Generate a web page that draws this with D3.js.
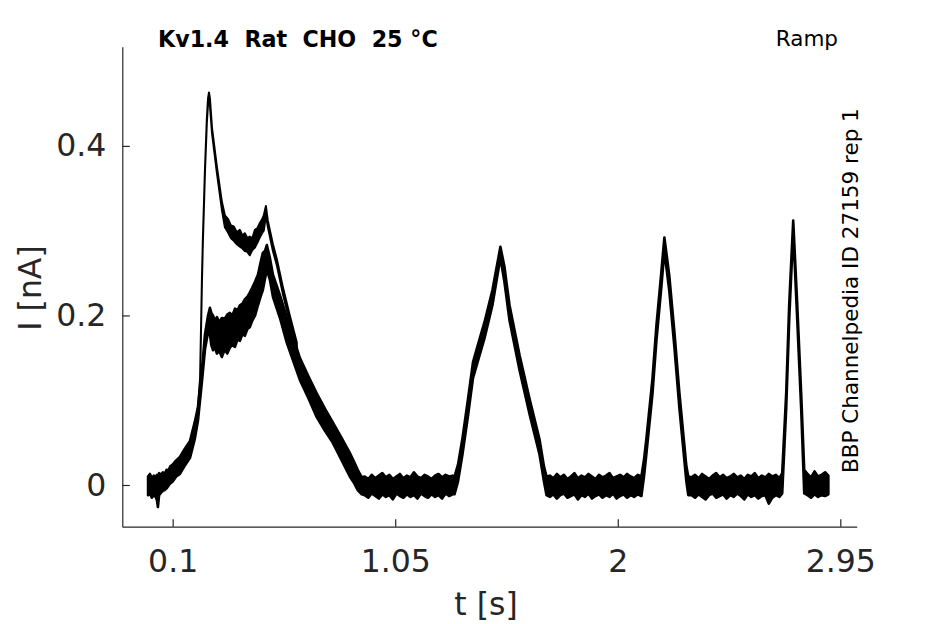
<!DOCTYPE html>
<html lang="en">
<head>
<meta charset="UTF-8"/>
<title>Kv1.4 Rat CHO 25 °C - Ramp</title>
<script src="https://cdn.jsdelivr.net/npm/d3@7/dist/d3.min.js"></script>
<style>
  * { margin: 0; padding: 0; }
  body { background: #fff; width: 945px; height: 624px; overflow: hidden; }
  svg { display: block; font-family: "DejaVu Sans", sans-serif; }
  .axis path, .axis line { stroke: #262626; stroke-width: 1.2px; }
  .axis text { fill: #262626; font-size: 31.5px; font-family: "DejaVu Sans", sans-serif; }
</style>
</head>
<body>
<svg id="chart" width="945" height="624"></svg>
<script>
// --- data: [t (s), upper edge (nA), lower edge (nA)] ---
// the overlapping lower sweeps drawn as one noisy band

const restStart = [
  [-0.005, 0.010, -0.012], [0.003, 0.013, -0.010], [0.011, 0.008, -0.015], [0.019, 0.011, -0.012],
  [0.027, 0.009, -0.014], [0.033, 0.012, -0.018], [0.037, 0.010, -0.026], [0.042, 0.014, -0.012],
  [0.050, 0.012, -0.009], [0.058, 0.015, -0.007], [0.066, 0.013, -0.006], [0.074, 0.018, -0.004],
  [0.082, 0.017, -0.001], [0.090, 0.022, 0.002]
]

const rampOne = [
  [0.100, 0.024, 0.004], [0.115, 0.029, 0.010], [0.131, 0.033, 0.013], [0.150, 0.042, 0.022],
  [0.174, 0.052, 0.032], [0.195, 0.075, 0.055], [0.208, 0.092, 0.076], [0.225, 0.136, 0.122],
  [0.238, 0.178, 0.160], [0.251, 0.200, 0.180], [0.259, 0.209, 0.178], [0.265, 0.203, 0.165],
  [0.272, 0.200, 0.159], [0.280, 0.194, 0.162], [0.289, 0.198, 0.155], [0.299, 0.192, 0.158],
  [0.310, 0.197, 0.151], [0.322, 0.196, 0.160], [0.333, 0.201, 0.155], [0.344, 0.203, 0.162],
  [0.355, 0.200, 0.165], [0.366, 0.208, 0.163], [0.377, 0.206, 0.172], [0.387, 0.212, 0.170],
  [0.398, 0.214, 0.178], [0.408, 0.219, 0.176], [0.419, 0.222, 0.184], [0.429, 0.227, 0.186],
  [0.440, 0.233, 0.194], [0.452, 0.240, 0.200], [0.464, 0.248, 0.212], [0.475, 0.262, 0.222],
  [0.485, 0.274, 0.230], [0.494, 0.276, 0.243], [0.502, 0.283, 0.254], [0.515, 0.268, 0.242],
  [0.528, 0.248, 0.222], [0.558, 0.224, 0.197], [0.587, 0.198, 0.168], [0.615, 0.174, 0.146],
  [0.643, 0.150, 0.124], [0.680, 0.128, 0.102], [0.715, 0.108, 0.080], [0.750, 0.090, 0.064],
  [0.783, 0.074, 0.050], [0.820, 0.056, 0.030], [0.856, 0.038, 0.010], [0.875, 0.027, 0.002],
  [0.890, 0.018, -0.006], [0.907, 0.009, -0.011]
]

const restOne = [
  [0.920, 0.010, -0.012], [0.935, 0.007, -0.015], [0.950, 0.012, -0.010], [0.965, 0.008, -0.013],
  [0.980, 0.011, -0.016], [0.995, 0.014, -0.011], [1.010, 0.009, -0.014], [1.025, 0.012, -0.012],
  [1.040, 0.007, -0.017], [1.055, 0.010, -0.010], [1.070, 0.013, -0.013], [1.085, 0.008, -0.015],
  [1.100, 0.011, -0.011], [1.115, 0.009, -0.014], [1.130, 0.015, -0.012], [1.145, 0.010, -0.016],
  [1.160, 0.008, -0.010], [1.175, 0.012, -0.013], [1.190, 0.010, -0.015], [1.205, 0.007, -0.011],
  [1.220, 0.011, -0.014], [1.235, 0.013, -0.012], [1.250, 0.009, -0.016], [1.265, 0.012, -0.010],
  [1.280, 0.010, -0.013], [1.295, 0.011, -0.011]
]

const rampTwo = [
  [1.303, 0.010, -0.011], [1.318, 0.024, 0.004], [1.337, 0.055, 0.036], [1.360, 0.100, 0.080],
  [1.382, 0.145, 0.126], [1.410, 0.172, 0.153], [1.431, 0.192, 0.173], [1.465, 0.230, 0.212],
  [1.499, 0.281, 0.268], [1.516, 0.258, 0.240], [1.538, 0.212, 0.194], [1.581, 0.153, 0.135],
  [1.624, 0.101, 0.083], [1.666, 0.054, 0.036], [1.685, 0.022, 0.004], [1.696, 0.010, -0.012]
]

const restTwo = [
  [1.710, 0.011, -0.014], [1.725, 0.008, -0.011], [1.740, 0.013, -0.016], [1.755, 0.009, -0.012],
  [1.770, 0.012, -0.010], [1.785, 0.007, -0.015], [1.800, 0.010, -0.013], [1.815, 0.014, -0.011],
  [1.830, 0.008, -0.017], [1.845, 0.011, -0.012], [1.860, 0.009, -0.014], [1.875, 0.013, -0.010],
  [1.890, 0.010, -0.016], [1.905, 0.007, -0.013], [1.920, 0.012, -0.011], [1.935, 0.009, -0.015],
  [1.950, 0.011, -0.012], [1.965, 0.014, -0.014], [1.980, 0.008, -0.010], [1.995, 0.010, -0.016],
  [2.010, 0.012, -0.013], [2.025, 0.009, -0.011], [2.040, 0.013, -0.015], [2.055, 0.010, -0.012],
  [2.070, 0.008, -0.014], [2.085, 0.012, -0.011]
]

const rampThree = [
  [2.101, 0.010, -0.013], [2.112, 0.030, 0.010], [2.122, 0.054, 0.036], [2.148, 0.125, 0.107],
  [2.165, 0.188, 0.170], [2.186, 0.251, 0.233], [2.199, 0.292, 0.276], [2.220, 0.247, 0.229],
  [2.242, 0.180, 0.162], [2.263, 0.109, 0.091], [2.293, 0.022, 0.004], [2.301, 0.010, -0.012]
]

const restThree = [
  [2.315, 0.009, -0.012], [2.330, 0.012, -0.015], [2.345, 0.008, -0.011], [2.360, 0.013, -0.014],
  [2.375, 0.010, -0.017], [2.390, 0.007, -0.012], [2.405, 0.011, -0.010], [2.420, 0.014, -0.015],
  [2.435, 0.009, -0.013], [2.450, 0.012, -0.011], [2.465, 0.008, -0.016], [2.480, 0.010, -0.012],
  [2.495, 0.013, -0.014], [2.510, 0.009, -0.010], [2.525, 0.011, -0.013], [2.540, 0.007, -0.017],
  [2.555, 0.012, -0.011], [2.570, 0.010, -0.014], [2.585, 0.014, -0.012], [2.600, 0.008, -0.016],
  [2.615, 0.011, -0.013], [2.630, 0.009, -0.012], [2.645, 0.013, -0.022], [2.660, 0.010, -0.015],
  [2.675, 0.012, -0.012], [2.690, 0.008, -0.014]
]

const rampFour = [
  [2.702, 0.014, -0.010], [2.719, 0.108, 0.090], [2.732, 0.214, 0.196], [2.749, 0.312, 0.300],
  [2.766, 0.214, 0.196], [2.783, 0.108, 0.090], [2.796, 0.018, -0.010]
]

const restEnd = [
  [2.810, 0.013, -0.012], [2.825, 0.009, -0.015], [2.840, 0.016, -0.011], [2.855, 0.010, -0.014],
  [2.870, 0.012, -0.012], [2.885, 0.015, -0.013], [2.899, 0.011, -0.011]
]

// the single sweep with the big transient peak (only where it leaves the band)
const peakSweep = [
  [0.174, 0.045, 0.040], [0.204, 0.076, 0.071], [0.217, 0.126, 0.122], [0.225, 0.244, 0.240],
  [0.229, 0.291, 0.287], [0.238, 0.374, 0.370], [0.246, 0.433, 0.428], [0.251, 0.456, 0.450],
  [0.255, 0.463, 0.455], [0.259, 0.456, 0.448], [0.268, 0.421, 0.415], [0.289, 0.375, 0.368],
  [0.310, 0.334, 0.325], [0.323, 0.318, 0.304], [0.336, 0.314, 0.298], [0.349, 0.306, 0.291],
  [0.361, 0.305, 0.288], [0.374, 0.298, 0.284], [0.387, 0.301, 0.281], [0.398, 0.294, 0.279],
  [0.408, 0.297, 0.276], [0.419, 0.291, 0.275], [0.429, 0.293, 0.271], [0.440, 0.291, 0.277],
  [0.451, 0.301, 0.280], [0.462, 0.303, 0.286], [0.472, 0.309, 0.292], [0.481, 0.313, 0.297],
  [0.489, 0.318, 0.300], [0.498, 0.329, 0.318], [0.506, 0.312, 0.305], [0.528, 0.284, 0.276],
  [0.545, 0.266, 0.259], [0.570, 0.234, 0.226], [0.600, 0.200, 0.192], [0.630, 0.168, 0.160]
]

const xTicks      = [0.1, 1.05, 2, 2.95]
const xTickLabels = ['0.1', '1.05', '2', '2.95']
const yTicks      = [0, 0.2, 0.4]
const yTickLabels = ['0', '0.2', '0.4']

const titleText = 'Kv1.4  Rat  CHO  25 °C'
const protocolText = 'Ramp'
const sourceText = 'BBP Channelpedia ID 27159 rep 1'

// --- layout ---

const svg = d3.select('#chart')

const x = d3.scaleLinear().domain([-0.115, 3.02]).range([122.3, 856.7])
const y = d3.scaleLinear().domain([-0.0492, 0.517]).range([526.7, 46.7])

const band = [].concat(restStart, rampOne, restOne, rampTwo, restTwo, rampThree, restThree, rampFour, restEnd)

const area = d3.area()
  .x(d => x(d[0]))
  .y0(d => y(d[2]))
  .y1(d => y(d[1]))

svg.append('path')
  .datum(band)
  .attr('d', area)
  .attr('fill', '#000')
  .attr('stroke', '#000')
  .attr('stroke-width', 2.6)
  .attr('stroke-linejoin', 'round')

svg.append('path')
  .datum(peakSweep)
  .attr('d', area)
  .attr('fill', '#000')
  .attr('stroke', '#000')
  .attr('stroke-width', 2)
  .attr('stroke-linejoin', 'round')

// axes, MATLAB style: ticks pointing in, no box
svg.append('g')
  .attr('class', 'axis')
  .attr('transform', `translate(0,${y.range()[0]})`)
  .call(d3.axisBottom(x).tickValues(xTicks).tickFormat((d, i) => xTickLabels[i])
    .tickSizeInner(-7.5).tickSizeOuter(0).tickPadding(23))

svg.append('g')
  .attr('class', 'axis')
  .attr('transform', `translate(${x.range()[0]},0)`)
  .call(d3.axisLeft(y).tickValues(yTicks).tickFormat((d, i) => yTickLabels[i])
    .tickSizeInner(-7.5).tickSizeOuter(0).tickPadding(16))

svg.selectAll('.axis').attr('font-size', null).attr('font-family', null)

// axis titles
svg.append('text')
  .attr('x', 486).attr('y', 615)
  .attr('text-anchor', 'middle')
  .attr('fill', '#262626')
  .style('font-size', '31.5px')
  .text('t [s]')

svg.append('text')
  .attr('transform', 'translate(41,288) rotate(-90)')
  .attr('text-anchor', 'middle')
  .attr('fill', '#262626')
  .style('font-size', '31.5px')
  .text('I [nA]')

// annotations
svg.append('text')
  .attr('x', 158).attr('y', 47)
  .attr('fill', '#000')
  .style('font-size', '22.2px')
  .style('font-weight', 'bold')
  .style('white-space', 'pre')
  .text(titleText)

svg.append('text')
  .attr('x', 838).attr('y', 46)
  .attr('text-anchor', 'end')
  .attr('fill', '#000')
  .style('font-size', '21.5px')
  .text(protocolText)

svg.append('text')
  .attr('transform', 'translate(858,473) rotate(-90)')
  .attr('fill', '#000')
  .style('font-size', '21.5px')
  .text(sourceText)
</script>
</body>
</html>
